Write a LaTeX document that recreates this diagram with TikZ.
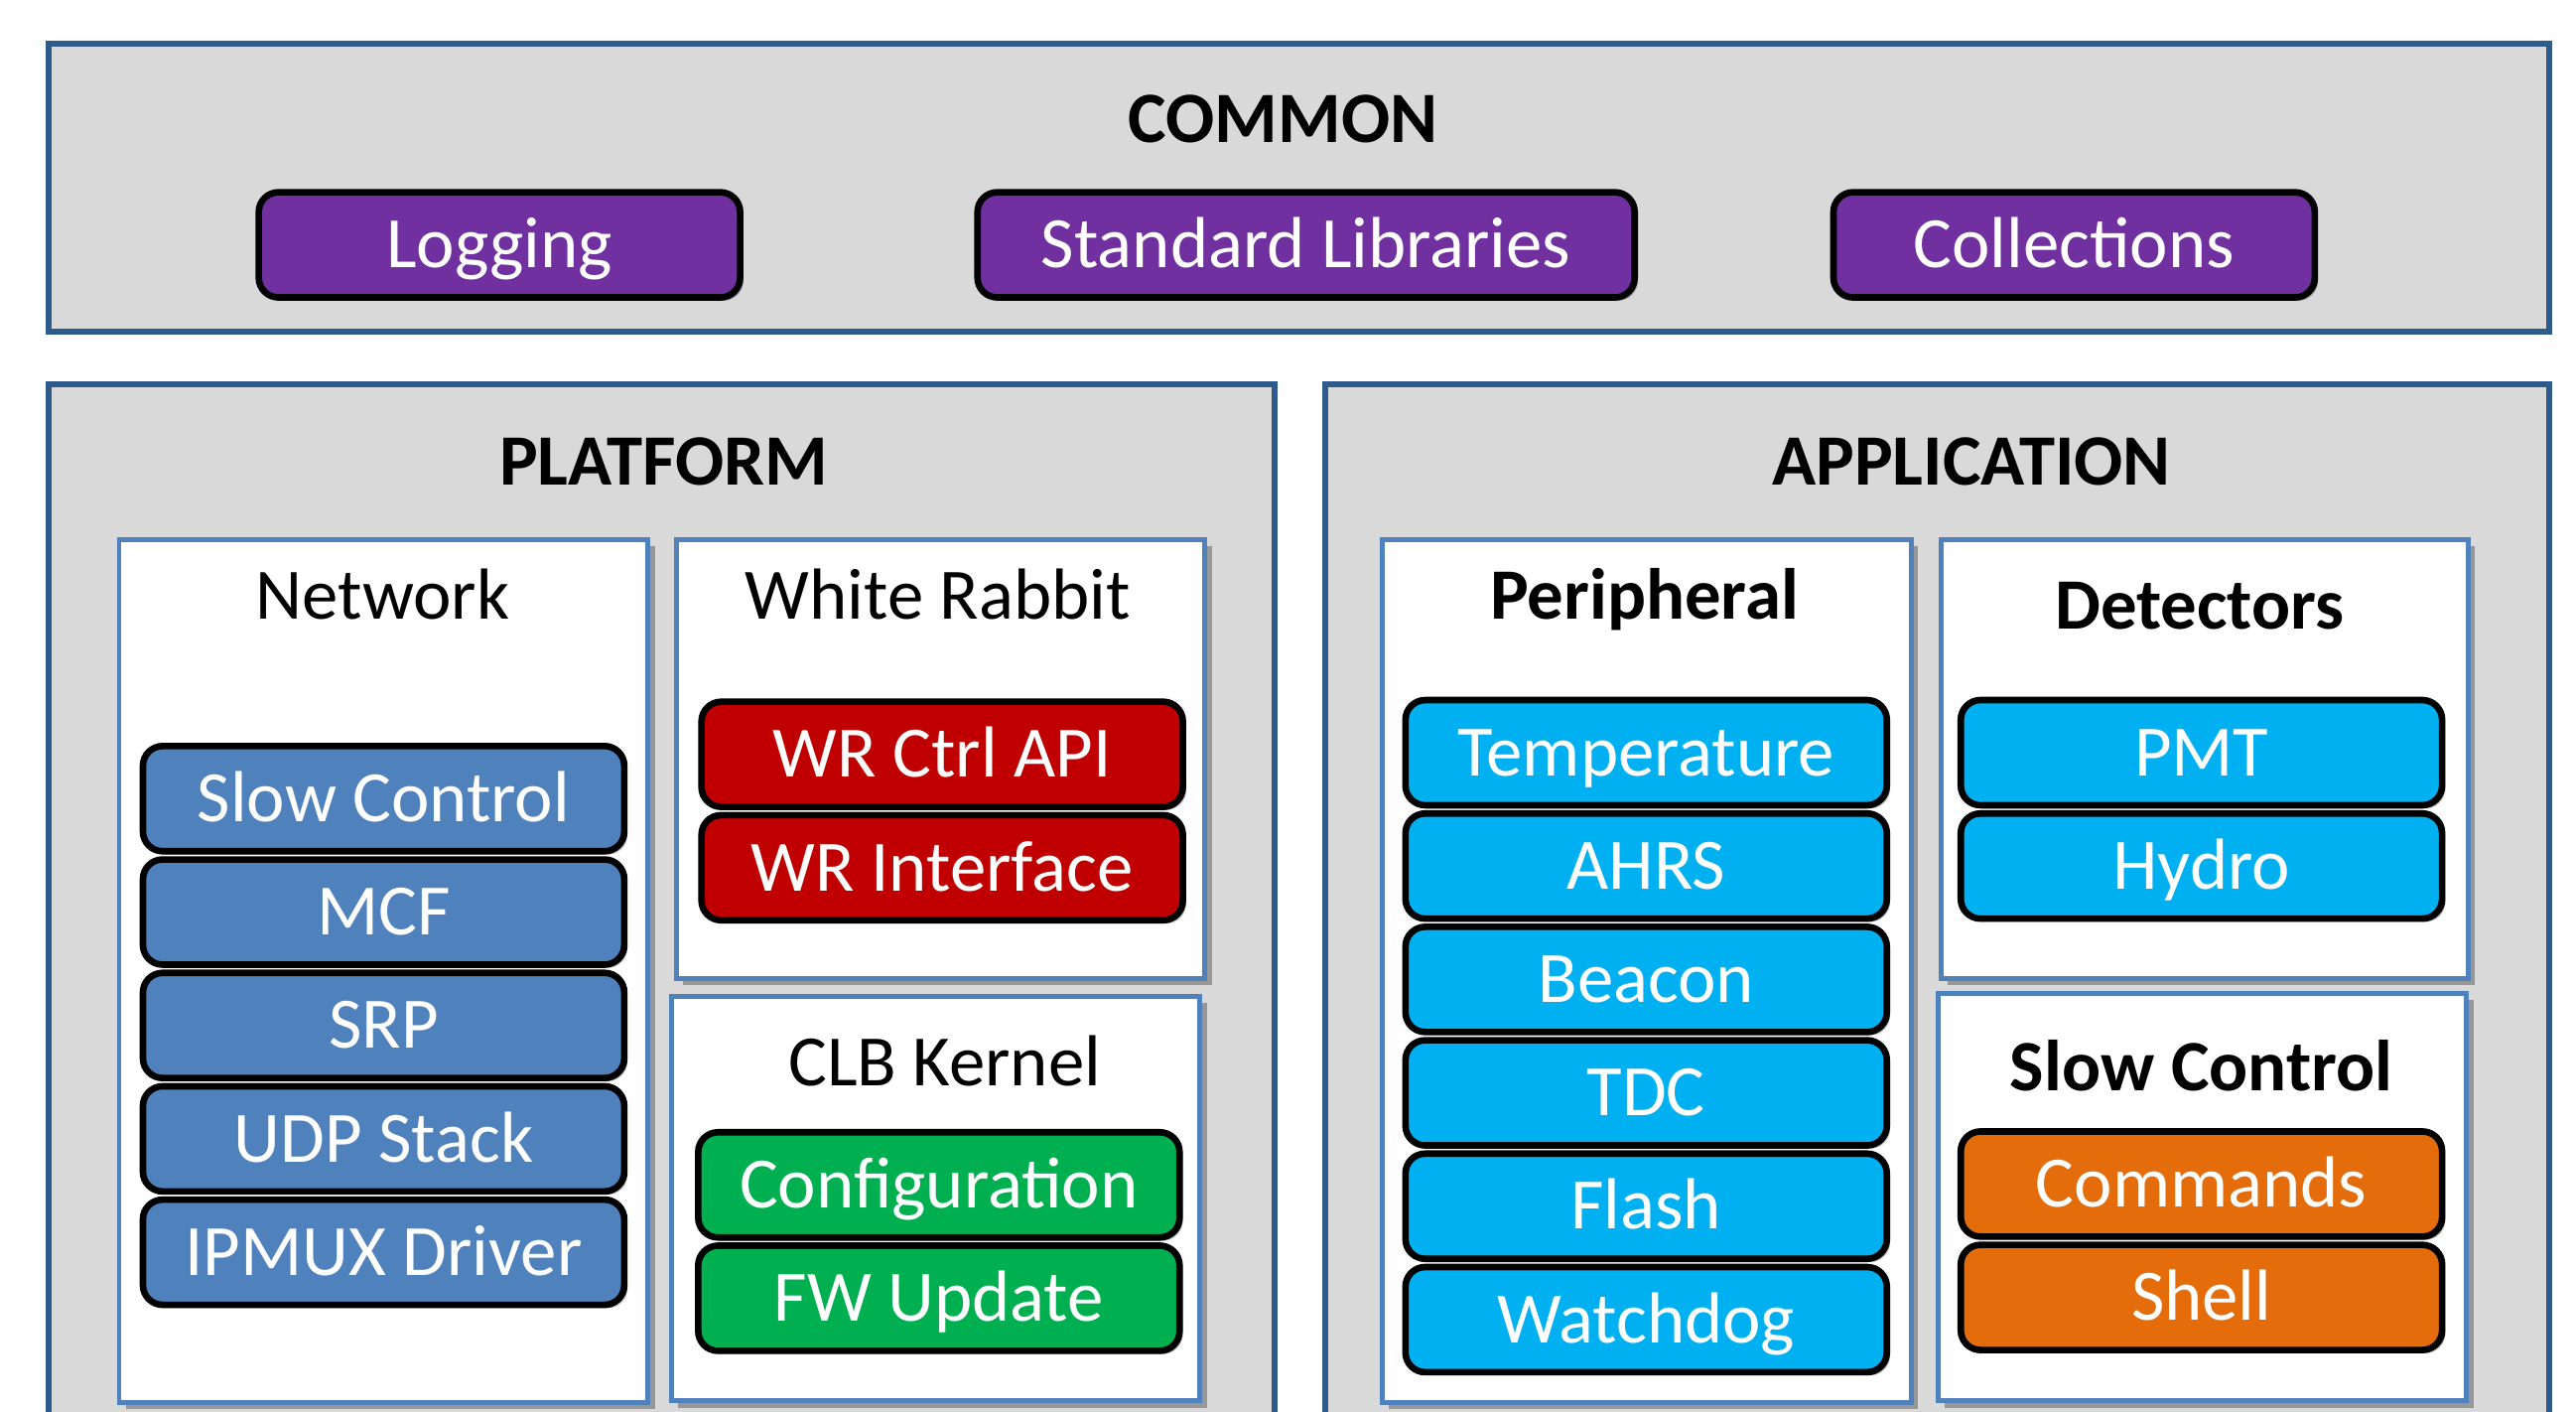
\documentclass[tikz,border=0pt]{standalone}
\usepackage{fontspec}
\setmainfont{Carlito}
\usetikzlibrary{positioning, shadows}

\definecolor{LayerFrame}{HTML}{2E5A8C}
\definecolor{LayerFill}{HTML}{D9D9D9}
\definecolor{ModuleFrame}{HTML}{4F81BD}
\definecolor{NetworkFill}{HTML}{4F81BD}
\definecolor{CommonFill}{HTML}{7030A0}
\definecolor{RabbitFill}{HTML}{C00000}
\definecolor{KernelFill}{HTML}{00B050}
\definecolor{DeviceFill}{HTML}{00B0F0}
\definecolor{ControlFill}{HTML}{E46C0A}

\tikzset{
  layerbox/.style = {draw = LayerFrame, fill = LayerFill, line width = 3.5pt,
    anchor = north west, inner sep = 0pt},
  modulebox/.style = {draw = ModuleFrame, fill = white, line width = 3pt,
    anchor = north west, inner sep = 0pt,
    drop shadow = {shadow xshift = 4pt, shadow yshift = -4pt, fill = black, opacity = 0.3}},
  labeltext/.style = {font = \fontsize{44pt}{50pt}\selectfont, text height = 28pt,
    text depth = 0pt, inner sep = 0pt},
  headtext/.style = {labeltext, font = \fontsize{44pt}{50pt}\selectfont\bfseries},
  unitbox/.style = {draw, line width = 4pt, rounded corners = 12pt,
    minimum width = 293pt, minimum height = 64pt, text = white,
    font = \fontsize{44pt}{50pt}\selectfont, text height = 28pt, text depth = 0pt,
    inner sep = 0pt,
    drop shadow = {shadow xshift = 2pt, shadow yshift = -2pt, fill = black, opacity = 0.25}},
}

\begin{document}
\begin{tikzpicture}[x = 1pt, y = -1pt, node distance = 1pt]

\useasboundingbox[fill = white] (0, 0) rectangle (1568, 859);

% layers
\node[layerbox, minimum width = 1522pt, minimum height = 175pt] (common) at (28, 25) {};
\node[layerbox, minimum width = 746pt, minimum height = 700pt] (platform) at (28, 232) {};
\node[layerbox, minimum width = 745pt, minimum height = 700pt] (application) at (805, 232) {};

\node[headtext] (commontitle) at (781, 73) {COMMON};
\node[headtext] (platformtitle) at (404, 281) {PLATFORM};
\node[headtext] (applicationtitle) at (1200, 281) {APPLICATION};

\node[unitbox, fill = CommonFill] (logging) at (304, 149) {Logging};
\node[unitbox, fill = CommonFill, minimum width = 400pt] (stdlib) at (795, 149) {Standard Libraries};
\node[unitbox, fill = CommonFill] (collections) at (1262.5, 149) {Collections};

% platform modules
\node[modulebox, minimum width = 322pt, minimum height = 525pt] (network) at (71, 327) {};
\node[modulebox, minimum width = 322pt, minimum height = 267pt] (whiterabbit) at (410, 327) {};
\node[modulebox, minimum width = 322pt, minimum height = 246pt] (clbkernel) at (407, 605) {};

\node[labeltext] (networktitle) at (233, 363) {Network};
\node[labeltext] (whiterabbittitle) at (571, 363) {White Rabbit};
\node[labeltext] (clbkerneltitle) at (575, 647) {CLB Kernel};

\node[unitbox, fill = NetworkFill] (slowcontrol) at (233.5, 486) {Slow Control};
\node[unitbox, fill = NetworkFill, below = of slowcontrol] (mcf) {MCF};
\node[unitbox, fill = NetworkFill, below = of mcf] (srp) {SRP};
\node[unitbox, fill = NetworkFill, below = of srp] (udpstack) {UDP Stack};
\node[unitbox, fill = NetworkFill, below = of udpstack] (ipmux) {IPMUX Driver};

\node[unitbox, fill = RabbitFill] (wrctrl) at (573.5, 459) {WR Ctrl API};
\node[unitbox, fill = RabbitFill, below = of wrctrl] (wrinterface) {WR Interface};

\node[unitbox, fill = KernelFill] (configuration) at (571.5, 721) {Configuration};
\node[unitbox, fill = KernelFill, below = of configuration] (fwupdate) {FW Update};

% application modules
\node[modulebox, minimum width = 322pt, minimum height = 525pt] (peripheral) at (840, 327) {};
\node[modulebox, minimum width = 321pt, minimum height = 267pt] (detectors) at (1180, 327) {};
\node[modulebox, minimum width = 322pt, minimum height = 248pt] (slowctrlmodule) at (1178, 603) {};

\node[headtext] (peripheraltitle) at (1001, 363) {Peripheral};
\node[headtext] (detectorstitle) at (1339, 369) {Detectors};
\node[headtext] (slowctrltitle) at (1340, 650) {Slow Control};

\node[unitbox, fill = DeviceFill] (temperature) at (1002, 458) {Temperature};
\node[unitbox, fill = DeviceFill, below = of temperature] (ahrs) {AHRS};
\node[unitbox, fill = DeviceFill, below = of ahrs] (beacon) {Beacon};
\node[unitbox, fill = DeviceFill, below = of beacon] (tdc) {TDC};
\node[unitbox, fill = DeviceFill, below = of tdc] (flash) {Flash};
\node[unitbox, fill = DeviceFill, below = of flash] (watchdog) {Watchdog};

\node[unitbox, fill = DeviceFill] (pmt) at (1340, 458) {PMT};
\node[unitbox, fill = DeviceFill, below = of pmt] (hydro) {Hydro};

\node[unitbox, fill = ControlFill] (commands) at (1340, 720.5) {Commands};
\node[unitbox, fill = ControlFill, below = of commands] (shell) {Shell};

\end{tikzpicture}
\end{document}
